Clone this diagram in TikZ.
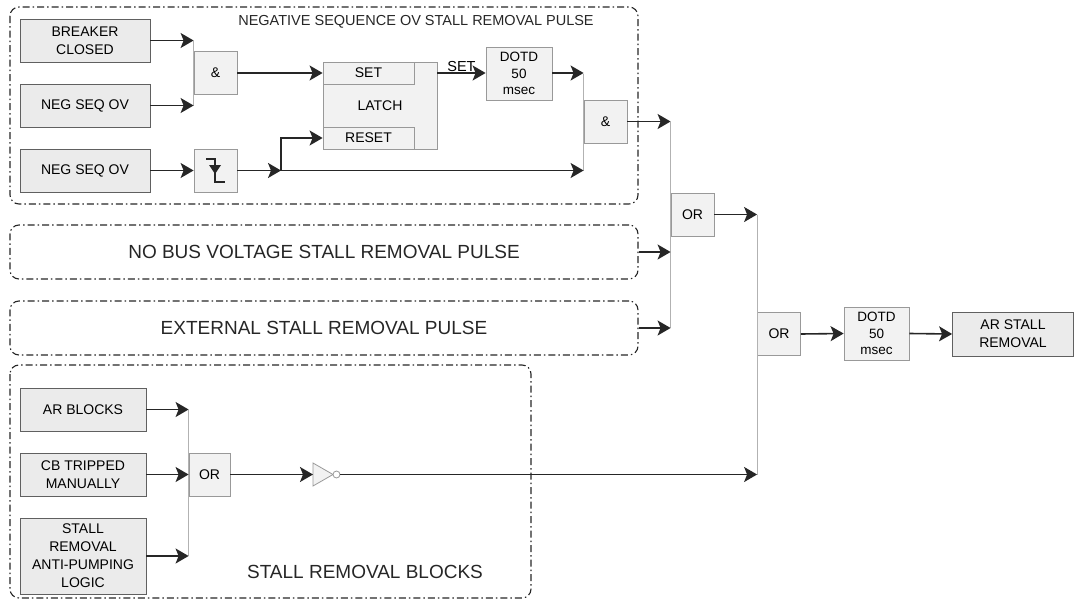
\documentclass[tikz,border=0pt]{standalone}
\usepackage{fontspec}
\setmainfont{Liberation Sans}
\usetikzlibrary{arrows.meta}
\begin{document}
\begin{tikzpicture}[x=1pt, y=1pt, >={Stealth[length=13pt,width=15pt,inset=3pt]},
  grp/.style={draw=black!85, line width=1.1pt, rounded corners=9pt, dash pattern=on 7pt off 3pt on 1.5pt off 3pt},
  grplabel/.style={font=\fontsize{19}{22}\selectfont, text=black!85},
  inbox/.style={draw=gray!75!black, fill=black!8, line width=0.8pt, minimum width=130pt, minimum height=43pt, align=center, inner sep=1pt, font=\fontsize{14}{18}\selectfont},
  gate/.style={draw=gray!80, fill=black!5, line width=0.8pt, minimum width=43pt, minimum height=43pt, inner sep=0pt, font=\fontsize{14}{18}\selectfont},
  timer/.style={gate, minimum width=66pt, minimum height=53pt, align=center, font=\fontsize{13.5}{16.5}\selectfont},
  wire/.style={->, line width=1.6pt, draw=black!85},
  bar/.style={draw=gray!60, line width=0.8pt}]
\useasboundingbox (0,0) rectangle (1074,-605);

% groups
\draw[grp] (10,-7) rectangle (638,-204);
\node[grplabel, font=\fontsize{14.5}{17}\selectfont] (negtitle) at (416,-22) {NEGATIVE SEQUENCE OV STALL REMOVAL PULSE};
\node[grp, grplabel, minimum width=628pt, minimum height=54pt] (nobus) at (324,-252) {NO BUS VOLTAGE STALL REMOVAL PULSE};
\node[grp, grplabel, minimum width=628pt, minimum height=54pt] (ext) at (324,-328) {EXTERNAL STALL REMOVAL PULSE};
\draw[grp] (10,-365) rectangle (531,-598);
\node[grplabel] (blocktitle) at (365,-572) {STALL REMOVAL BLOCKS};

% negative sequence pulse
\node[inbox] (bc) at (85,-40.5) {BREAKER\\CLOSED};
\node[inbox] (nsq1) at (85,-105.5) {NEG SEQ OV};
\node[inbox] (nsq2) at (85,-170.5) {NEG SEQ OV};
\node[gate] (and1) at (215.5,-73) {\&};
\node[gate] (fall) at (215.5,-170.5) {};
\draw[line width=1.4pt, black!85] (206,-159) -- (215,-159) -- (215,-182) -- (225,-182);
\fill[black!85] (209,-165) -- (221,-165) -- (215,-174) -- cycle;
\node[gate, minimum width=114pt, minimum height=87pt] (latch) at (380,-105.5) {LATCH};
\node[gate, minimum width=91pt, minimum height=22pt] (set) at (368.5,-73) {SET};
\node[gate, minimum width=91pt, minimum height=22pt] (reset) at (368.5,-138) {RESET};
\node[timer] (dotd1) at (519,-73.5) {DOTD\\50\\msec};
\node[gate] (and2) at (605.5,-121.5) {\&};
\coordinate (split) at (281,-170.5);

\draw[bar] (and1.west |- bc.east) -- (and1.west |- nsq1.east);
\draw[wire] (bc.east) -- (and1.west |- bc.east);
\draw[wire] (nsq1.east) -- (and1.west |- nsq1.east);
\draw[wire] (nsq2.east) -- (fall.west);
\draw[wire] (and1.east) -- (set.west);
\draw[wire] (fall.east) -- (split);
\draw[wire] (split) |- (reset.west);
\draw[bar] (and2.west |- dotd1.east) -- (and2.west |- split);
\draw[wire] (split) -- (and2.west |- split);
\draw[wire] (latch.east |- set.east) -- node[above, inner sep=1pt, font=\fontsize{14.5}{16}\selectfont] (setlbl) {SET} (dotd1.west |- set.east);
\draw[wire] (dotd1.east |- set.east) -- (and2.west |- set.east);

% OR chain
\node[gate] (or1) at (692.5,-214.5) {OR};
\node[gate] (or2) at (779,-334) {OR};
\node[timer, minimum width=65pt] (dotd2) at (876.5,-333.5) {DOTD\\50\\msec};
\node[inbox, minimum width=121pt, minimum height=44pt] (arsr) at (1013,-334) {AR STALL\\REMOVAL};
\draw[bar] (or1.west |- and2.east) -- (or1.west |- ext.east);
\draw[wire] (and2.east) -- (or1.west |- and2.east);
\draw[wire] (nobus.east) -- (or1.west |- nobus.east);
\draw[wire] (ext.east) -- (or1.west |- ext.east);

% stall removal blocks
\node[inbox, minimum width=126pt] (arb) at (83,-409.5) {AR BLOCKS};
\node[inbox, minimum width=126pt] (cbt) at (83,-474.5) {CB TRIPPED\\MANUALLY};
\node[inbox, minimum width=126pt, minimum height=76pt] (sra) at (83,-556) {STALL\\REMOVAL\\ANTI-PUMPING\\LOGIC};
\node[gate, minimum width=41pt] (or3) at (209.5,-474.5) {OR};
\draw[draw=gray!80, fill=black!5, line width=0.8pt] (313,-463) -- (333,-474.5) -- (313,-486) -- cycle;
\draw[draw=gray!80, fill=white, line width=0.8pt] (336.5,-474.5) circle (3.5);
\coordinate (notin) at (313,-474.5);
\coordinate (notout) at (340,-474.5);
\draw[bar] (or3.west |- arb.east) -- (or3.west |- sra.east);
\draw[wire] (arb.east) -- (or3.west |- arb.east);
\draw[wire] (cbt.east) -- (or3.west);
\draw[wire] (sra.east) -- (or3.west |- sra.east);
\draw[wire] (or3.east) -- (notin);

\draw[bar] (or2.west |- or1.east) -- (or2.west |- notout);
\draw[wire] (or1.east) -- (or2.west |- or1.east);
\draw[wire] (notout) -- (or2.west |- notout);
\draw[wire] (or2.east) -- (dotd2.west);
\draw[wire] (dotd2.east) -- (arsr.west);
\end{tikzpicture}
\end{document}
